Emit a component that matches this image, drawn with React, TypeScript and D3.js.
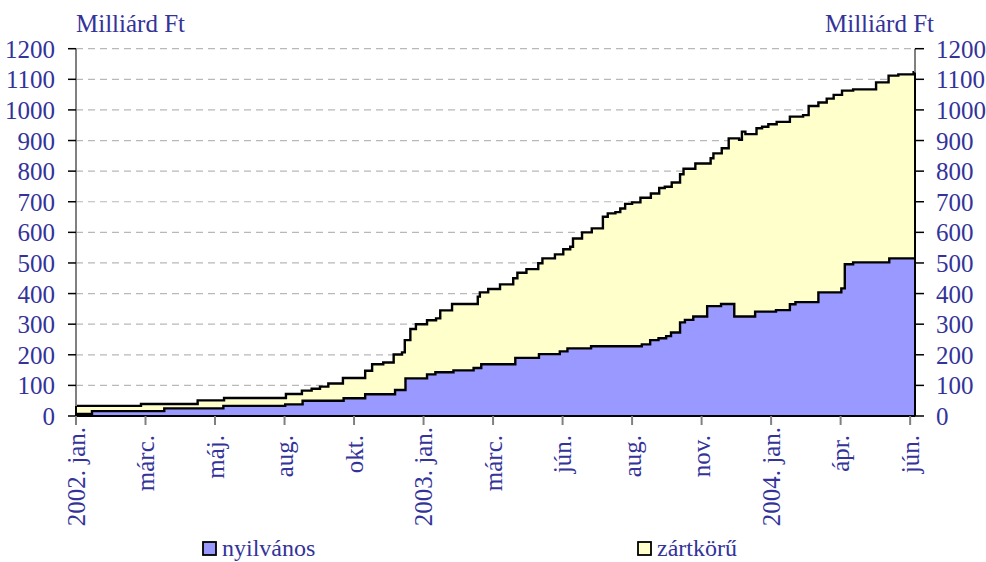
import React from "react";
import * as d3 from "d3";

// x unit: week index, one axis label every 10 weeks
const tickLabels = ["2002. jan.", "márc.", "máj.", "aug.", "okt.", "2003. jan.", "márc.", "jún.", "aug.", "nov.", "2004. jan.", "ápr.", "jún."];
const tickWeeks = [0, 10, 20, 30, 40, 50, 60, 70, 80, 90, 100, 110, 120];
const yTicks = [0, 100, 200, 300, 400, 500, 600, 700, 800, 900, 1000, 1100, 1200];
const lastWeek = 120.7;

// nyilvános (public) – step change points
const nyilvanosHet = [0, 2.3, 12.7, 21.2, 30.1, 32.6, 38.5, 41.6, 45.9, 47.4, 50.5, 51.7, 54.3, 57.2, 58.3, 63.2, 66.6, 69.6, 70.7, 74.1, 81.4, 82.6, 83.8, 84.9, 85.6, 86.9, 87.6, 88.8, 90.8, 92.8, 94.7, 97.7, 100.7, 102.7, 103.5, 106.8, 110.1, 110.6, 111.8, 117.0];
const nyilvanos = [7, 16, 25, 33, 38, 50, 58, 71, 85, 123, 136, 143, 149, 157, 169, 190, 202, 211, 221, 228, 234, 248, 254, 261, 273, 306, 314, 325, 359, 366, 325, 341, 346, 365, 372, 404, 417, 496, 502, 515];

// nyilvános + zártkörű (cumulative total) – step change points
const osszesHet = [0, 9.35, 17.5, 21.3, 30.2, 32.5, 33.9, 35.1, 36.3, 38.4, 41.6, 42.6, 44.2, 45.7, 46.9, 47.3, 48.1, 48.9, 50.5, 51.8, 52.4, 54.1, 57.8, 58.1, 59.3, 61.0, 62.9, 63.5, 64.8, 66.5, 67.1, 68.9, 70.1, 71.1, 71.5, 72.8, 74.2, 75.8, 76.5, 77.6, 78.3, 79.0, 80.0, 81.2, 82.7, 83.9, 84.7, 85.7, 86.9, 87.4, 89.1, 91.3, 91.7, 92.9, 93.9, 95.4, 95.8, 96.3, 97.9, 98.7, 99.6, 100.8, 102.7, 104.6, 105.4, 106.8, 108.0, 109.0, 110.2, 111.8, 115.1, 116.9, 118.3, 120.5];
const osszes = [33, 39, 51, 59, 72, 83, 89, 96, 106, 124, 148, 169, 175, 201, 208, 248, 284, 300, 313, 319, 345, 366, 390, 404, 415, 430, 450, 468, 480, 499, 515, 528, 545, 553, 580, 600, 613, 651, 662, 666, 678, 693, 698, 713, 727, 745, 749, 763, 790, 808, 825, 842, 858, 875, 907, 902, 929, 921, 940, 945, 953, 961, 978, 983, 1013, 1024, 1037, 1049, 1063, 1067, 1090, 1112, 1116, 1123];

const seriesNames = ["nyilvános", "zártkörű"];
const seriesColors = ["#9999ff", "#ffffcc"];

const W = 986, H = 562;
const L = 76, R = 915, T = 48.7, B = 416;
const textColor = "#333399";
const ts = { fontFamily: "Liberation Serif" };

export default function App() {
  const x = d3.scaleLinear().domain([0, lastWeek]).range([L, R]);
  const y = d3.scaleLinear().domain([0, 1200]).range([B, T]);

  const toPts = (ws: number[], vs: number[]) => {
    const p = ws.map((w, i) => [w, vs[i]] as [number, number]);
    p.push([lastWeek, vs[vs.length - 1]]);
    return p;
  };
  const pubPts = toPts(nyilvanosHet, nyilvanos);
  const totPts = toPts(osszesHet, osszes);

  const area = d3.area<[number, number]>()
    .x(d => x(d[0])).y0(y(0)).y1(d => y(d[1])).curve(d3.curveStepAfter);
  const line = d3.line<[number, number]>()
    .x(d => x(d[0])).y(d => y(d[1])).curve(d3.curveStepAfter);

  const isYear = (s: string) => /\d/.test(s);

  return (
    <svg width={W} height={H} style={{ position: "absolute", left: 0, top: 0, background: "#fff" }}>
      {/* grid */}
      {yTicks.filter(v => v > 0).map(v => (
        <line key={"g" + v} x1={L} x2={R} y1={y(v)} y2={y(v)} stroke="#b8b8b8" strokeWidth={1.2} strokeDasharray="7,5" />
      ))}
      {/* areas */}
      <path d={area(totPts) || ""} fill={seriesColors[1]} />
      <path d={area(pubPts) || ""} fill={seriesColors[0]} />
      <path d={line(totPts) || ""} fill="none" stroke="#000" strokeWidth={2.4} />
      <path d={line(pubPts) || ""} fill="none" stroke="#000" strokeWidth={2.4} />
      <line x1={R} x2={R} y1={y(osszes[osszes.length - 1])} y2={B} stroke="#000" strokeWidth={2} />
      <line x1={L} x2={L} y1={y(osszes[0])} y2={B} stroke="#000" strokeWidth={2} />
      {/* axes */}
      <line x1={L} x2={L} y1={T} y2={y(osszes[0])} stroke="#808080" strokeWidth={2} />
      <line x1={R} x2={R} y1={T} y2={y(osszes[osszes.length - 1])} stroke="#808080" strokeWidth={2} />
      <line x1={L} x2={R} y1={B} y2={B} stroke="#000" strokeWidth={2} />
      {yTicks.map(v => (
        <g key={"t" + v}>
          <line x1={L - 8} x2={L} y1={y(v)} y2={y(v)} stroke="#000" strokeWidth={1.5} />
          <line x1={R} x2={R + 9} y1={y(v)} y2={y(v)} stroke="#000" strokeWidth={1.5} />
          <text x={55} y={y(v) + 9} textAnchor="end" fontSize={25} fill={textColor} style={ts}>{v}</text>
          <text x={936} y={y(v) + 9} textAnchor="start" fontSize={25} fill={textColor} style={ts}>{v}</text>
        </g>
      ))}
      {tickWeeks.map((w, i) => (
        <g key={"x" + i}>
          <line x1={x(w)} x2={x(w)} y1={B} y2={B + 9} stroke="#808080" strokeWidth={2} />
          <text transform={`translate(${x(w) + 8.5},${isYear(tickLabels[i]) ? 427 : 435}) rotate(-90)`}
            textAnchor="end" fontSize={25} fill={textColor} style={ts}>{tickLabels[i]}</text>
        </g>
      ))}
      <text x={76} y={32} fontSize={25} fill={textColor} style={ts}>Milliárd Ft</text>
      <text x={825} y={32} fontSize={25} fill={textColor} style={ts}>Milliárd Ft</text>
      {/* legend */}
      {[203, 638].map((lx, i) => (
        <g key={"l" + i}>
          <rect x={lx} y={542} width={13} height={13} fill={seriesColors[i]} stroke="#000" strokeWidth={1.8} />
          <text x={lx + 19} y={556} fontSize={24} fill={textColor} style={ts}>{seriesNames[i]}</text>
        </g>
      ))}
    </svg>
  );
}
